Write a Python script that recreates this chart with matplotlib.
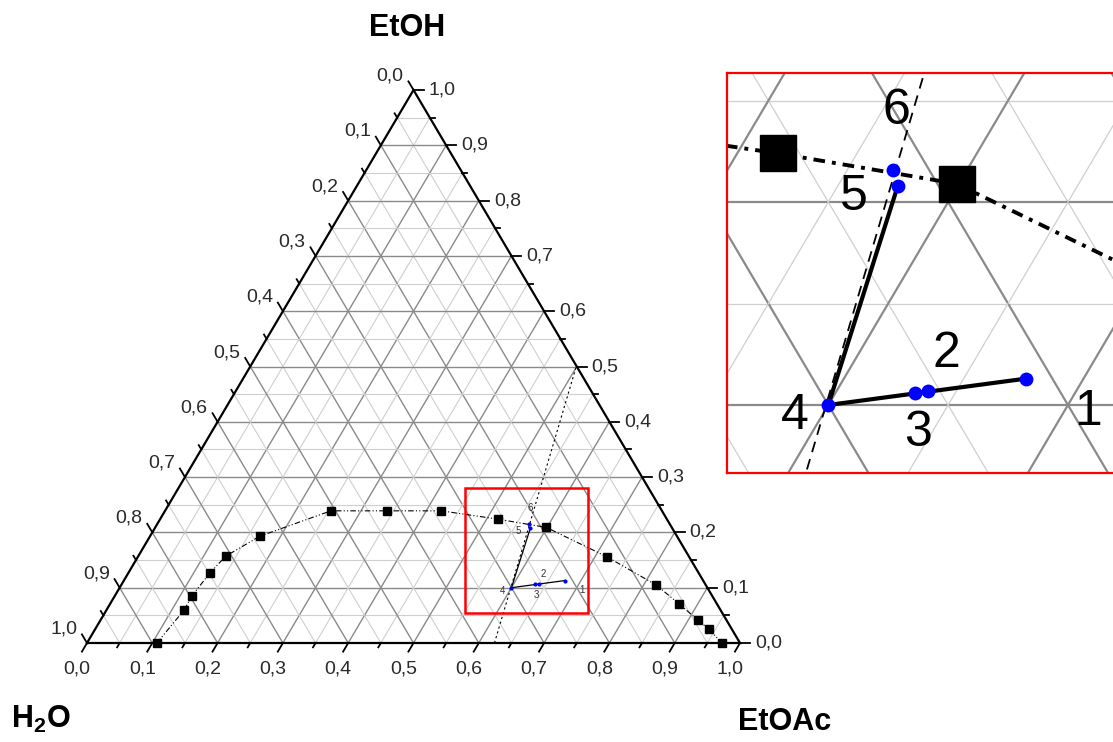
import numpy as np
import matplotlib
matplotlib.use("Agg")
import matplotlib.pyplot as plt
from matplotlib.patches import Rectangle

plt.rcParams['font.family'] = ['Liberation Sans', 'DejaVu Sans']
plt.rcParams['mathtext.fontset'] = 'custom'
plt.rcParams['mathtext.rm'] = 'Liberation Sans'
plt.rcParams['mathtext.bf'] = 'Liberation Sans:bold'

# binodal curve (mass fractions)
binodal_etoac = [0.107, 0.119, 0.118, 0.125, 0.134, 0.168, 0.254, 0.340, 0.423,
                 0.517, 0.599, 0.718, 0.819, 0.871, 0.914, 0.940, 0.972]
binodal_etoh = [0.000, 0.060, 0.085, 0.127, 0.157, 0.193, 0.239, 0.239, 0.239,
                0.224, 0.209, 0.156, 0.105, 0.071, 0.042, 0.025, 0.000]

# mixture points 1..6
point_labels = ['1', '2', '3', '4', '5', '6']
point_etoac = [0.676, 0.638, 0.633, 0.600, 0.575, 0.569]
point_etoh = [0.113, 0.107, 0.106, 0.100, 0.208, 0.216]

# straight auxiliary line (end points)
aux_etoac = [0.624, 0.499]
aux_etoh = [0.000, 0.501]

tick_values = np.round(np.arange(0, 1.0001, 0.1), 1)

W, H = 1113, 742
SX, SY = 653.0, 553.0   # pixel size of the triangle


def tern(a, e):
    a = np.asarray(a, dtype=float)
    e = np.asarray(e, dtype=float)
    return a + e / 2, e


def draw_grid(ax, lw_major, lw_minor):
    for i in range(1, 20):
        k = i * 0.05
        major = i % 2 == 0
        c = '#8a8a8a' if major else '#cfcfcf'
        lw = lw_major if major else lw_minor
        ax.plot([k / 2, 1 - k / 2], [k, k], color=c, lw=lw, zorder=1)
        ax.plot([k, k + (1 - k) / 2], [0, 1 - k], color=c, lw=lw, zorder=1)
        ax.plot([1 - k, (1 - k) / 2], [0, 1 - k], color=c, lw=lw, zorder=1)


def draw_data(ax, s_sq, s_pt, lw_tie, lw_bin, bin_ls, lw_aux, aux_ls, clip):
    bx, by = tern(binodal_etoac, binodal_etoh)
    ax.plot(bx, by, color='black', lw=lw_bin, ls=bin_ls, zorder=3, clip_on=clip)
    ax.plot(bx, by, 's', color='black', ms=s_sq, zorder=4, clip_on=clip)
    axx, axy = tern(aux_etoac, aux_etoh)
    ax.plot(axx, axy, color='black', lw=lw_aux, ls=aux_ls, zorder=3, clip_on=clip)
    px, py = tern(point_etoac, point_etoh)
    ax.plot([px[3], px[0]], [py[3], py[0]], color='black', lw=lw_tie, zorder=5, clip_on=clip)
    ax.plot([px[3], px[4]], [py[3], py[4]], color='black', lw=lw_tie, zorder=5, clip_on=clip)
    ax.plot(px, py, 'o', color='#0000ff', ms=s_pt, mec='none', zorder=6, clip_on=clip)
    return px, py


# label offsets in main-plot pixels
label_offsets = [(17, -9), (5, 10), (1, -11), (-9, -3), (-12, -3), (1, 16)]

fig = plt.figure(figsize=(W / 100, H / 100), dpi=100)
ax = fig.add_axes([87 / W, 99 / H, SX / W, SY / H])
ax.set_xlim(0, 1)
ax.set_ylim(0, 1)
ax.axis('off')

draw_grid(ax, 1.0, 0.8)

# triangle frame
ax.plot([0, 1, 0.5, 0], [0, 0, 1, 0], color='black', lw=1.6, zorder=7, clip_on=False,
        solid_joinstyle='miter')

# ticks
bdir = np.array([-0.5084, -0.8611])
ldir = np.array([-0.5084, 0.8611])
rdir = np.array([1.0, 0.0])
for i in range(21):
    k = i * 0.05
    L = 10 if i % 2 == 0 else 5
    # bottom (EtOAc)
    x0, y0 = k, 0
    ax.plot([x0, x0 + bdir[0] * L / SX], [y0, y0 + bdir[1] * L / SY], color='black', lw=1.3, clip_on=False, zorder=7)
    # left (H2O): h = k
    x0, y0 = (1 - k) / 2, 1 - k
    ax.plot([x0, x0 + ldir[0] * L / SX], [y0, y0 + ldir[1] * L / SY], color='black', lw=1.3, clip_on=False, zorder=7)
    # right (EtOH): e = k
    x0, y0 = 1 - k / 2, k
    ax.plot([x0, x0 + rdir[0] * L / SX], [y0, y0], color='black', lw=1.3, clip_on=False, zorder=7)

tcol = '#2a2a2a'
for v in tick_values:
    s = f"{v:.1f}".replace('.', ',')
    ax.annotate(s, xy=(v, 0), xytext=(-10, -26), textcoords='offset pixels',
                ha='center', va='center', fontsize=14, color=tcol)
    ax.annotate(s, xy=((1 - v) / 2, 1 - v), xytext=(-10, 14), textcoords='offset pixels',
                ha='right', va='center', fontsize=14, color=tcol)
    ax.annotate(s, xy=(1 - v / 2, v), xytext=(15, 0), textcoords='offset pixels',
                ha='left', va='center', fontsize=14, color=tcol)

px, py = draw_data(ax, 5.5, 3.0, 0.9, 0.8, (0, (5, 2, 1, 2, 1, 2)), 0.8, (0, (2, 2.5)), False)
for lab, x, y, off in zip(point_labels, px, py, label_offsets):
    ax.annotate(lab, xy=(x, y), xytext=off, textcoords='offset pixels',
                ha='center', va='center', fontsize=7, color='#333333', zorder=8)

# zoom frame in main plot
box_x0, box_y0, box_w, box_h = 0.5789, 0.0542, 0.1884, 0.226
ax.add_patch(Rectangle((box_x0, box_y0), box_w, box_h, fill=False, ec='red', lw=1.8,
                       zorder=9, clip_on=False))

# corner titles
fig.text(407 / W, 1 - 28 / H, 'EtOH', ha='center', va='center', fontsize=22, fontweight='bold')
fig.text(41 / W, 1 - 719 / H, r'$\mathbf{H_2O}$', ha='center', va='center', fontsize=22)
fig.text(785 / W, 1 - 722 / H, 'EtOAc', ha='center', va='center', fontsize=22, fontweight='bold')

# inset
zoom = 3.67
ax2 = fig.add_axes([727 / W, 269 / H, 393 / W, 400 / H])
cx_pix, cy_pix = 828.3 - 727, 473 - 405   # position of point 4 in inset pixels
x4, y4 = tern(point_etoac[3], point_etoh[3])
ax2.set_xlim(x4 - cx_pix / (SX * zoom), x4 + (393 - cx_pix) / (SX * zoom))
ax2.set_ylim(y4 - cy_pix / (SY * zoom), y4 + (400 - cy_pix) / (SY * zoom))
ax2.set_xticks([])
ax2.set_yticks([])
for sp in ax2.spines.values():
    sp.set_color('red')
    sp.set_linewidth(1.6)
    sp.set_zorder(10)

draw_grid(ax2, 1.6, 0.9)
px2, py2 = draw_data(ax2, 26, 10, 3.0, 2.8, (0, (3, 1.8, 1, 1.8)), 1.3, (0, (6, 4)), True)
for lab, x, y, off in zip(point_labels, px2, py2, label_offsets):
    ax2.annotate(lab, xy=(x, y), xytext=(off[0] * zoom, off[1] * zoom), textcoords='offset pixels',
                 ha='center', va='center', fontsize=36, color='black', zorder=8)

fig.savefig('out.png', dpi=100)
